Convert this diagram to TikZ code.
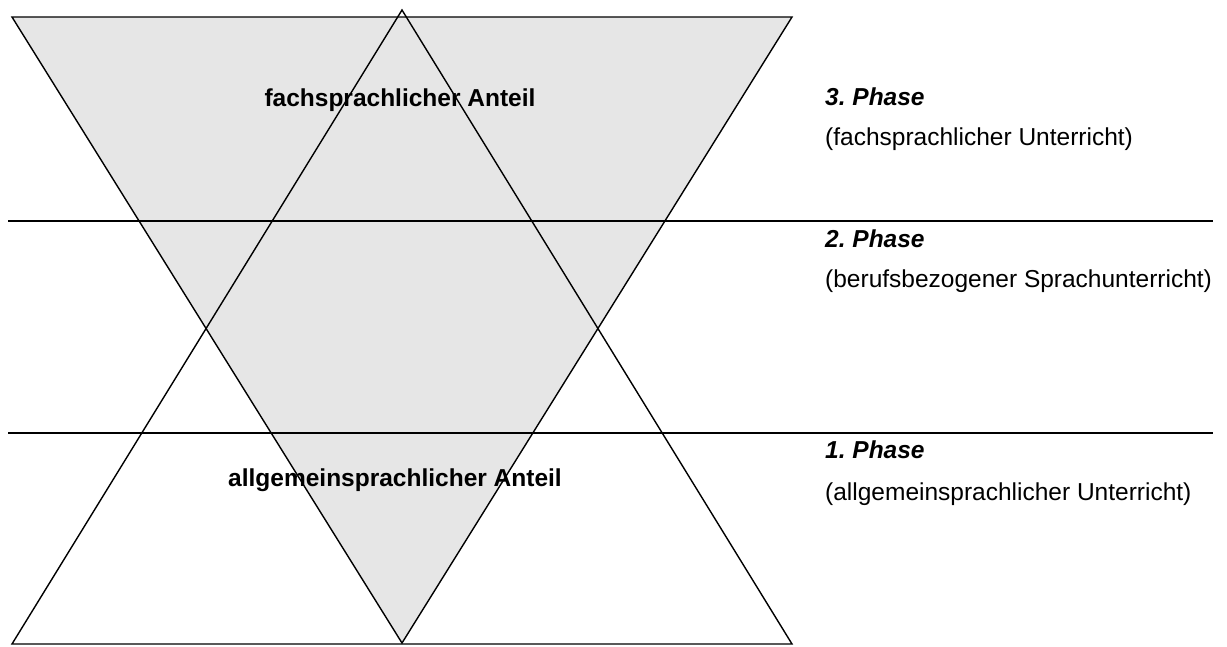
\documentclass[tikz,border=0pt]{standalone}
\usepackage{fontspec}
\setmainfont{Liberation Sans}
\definecolor{phgray}{HTML}{E6E6E6}
\usepackage{tikz}
\usetikzlibrary{positioning}
\frenchspacing

\begin{document}
\begin{tikzpicture}[x=1pt, y=-1pt,
  edge/.style={draw=black, line width=1.4pt, line join=miter},
  divider/.style={draw=black, line width=2.3pt},
  share/.style={font=\fontsize{24.5}{28}\selectfont\bfseries, inner sep=0pt, anchor=base},
  phase/.style={font=\fontsize{24.5}{28}\selectfont\bfseries\itshape, inner sep=0pt, anchor=base west},
  phasetext/.style={font=\fontsize{24.5}{28}\selectfont, inner sep=0pt, anchor=base west},
]
  \useasboundingbox (0,0) rectangle (1227,646);

  % corners of the two triangles
  \coordinate (tl) at (12,17);
  \coordinate (tr) at (792,17);
  \coordinate (tm) at (402,10);
  \coordinate (bl) at (12,644);
  \coordinate (br) at (792,644);
  \coordinate (bm) at (402,643);

  \fill[phgray] (tl) -- (tr) -- (bm) -- cycle;
  \draw[edge] (tl) -- (tr) -- (bm) -- cycle;
  \draw[edge] (tm) -- (br) -- (bl) -- cycle;

  % phase borders
  \coordinate (d2a) at (8,221);
  \coordinate (d2b) at (1213,221);
  \coordinate (d1a) at (8,433);
  \coordinate (d1b) at (1213,433);
  \draw[divider] (d2a) -- (d2b);
  \draw[divider] (d1a) -- (d1b);

  \node[share] (fach) at (400,106) {fachsprachlicher Anteil};
  \node[share] (allg) at (395,486) {allgemeinsprachlicher Anteil};

  \node[phase] (ph3) at (825,105) {3. Phase};
  \node[phasetext] (ph3t) at (825,145) {(fachsprachlicher Unterricht)};
  \node[phase] (ph2) at (825,247) {2. Phase};
  \node[phasetext] (ph2t) at (825,287) {(berufsbezogener Sprachunterricht)};
  \node[phase] (ph1) at (825,458) {1. Phase};
  \node[phasetext] (ph1t) at (825,500) {(allgemeinsprachlicher Unterricht)};
\end{tikzpicture}
\end{document}
